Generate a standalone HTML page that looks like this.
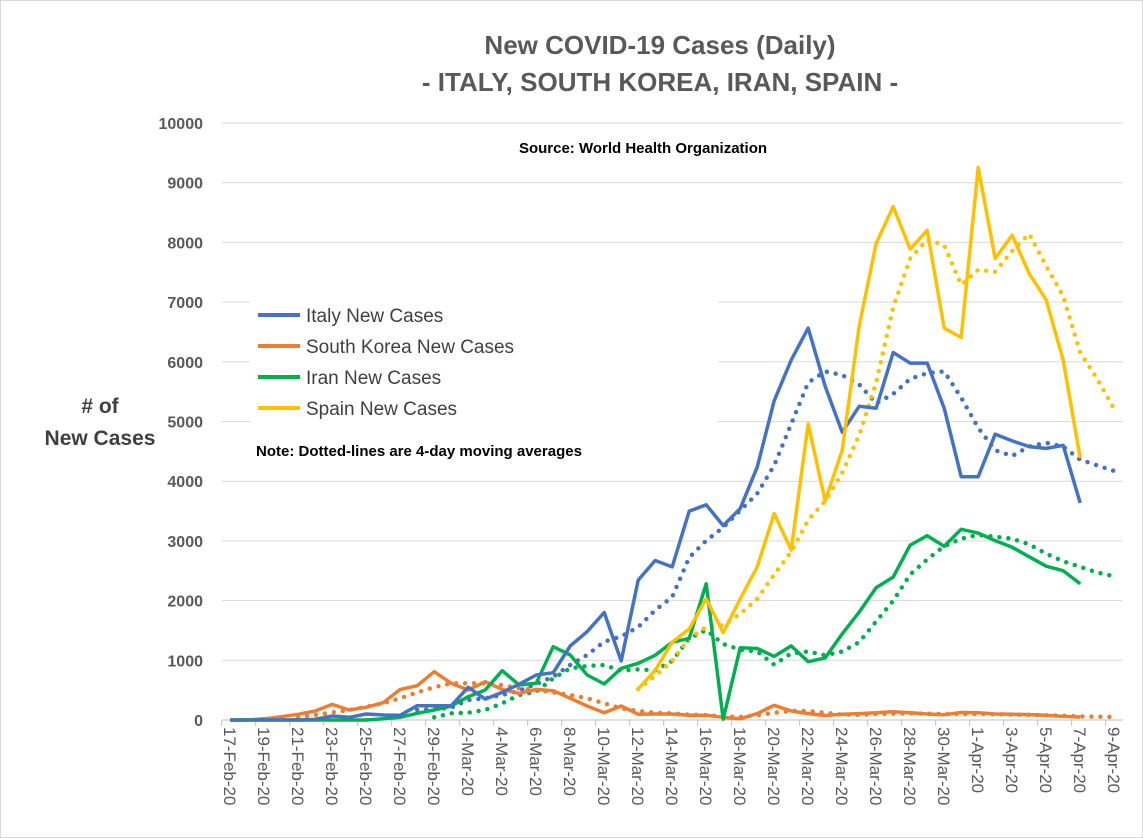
<!DOCTYPE html>
<html><head><meta charset="utf-8">
<style>
html,body{margin:0;padding:0;background:#fff;}
svg{display:block;font-family:"Liberation Sans",sans-serif;}
</style></head>
<body>
<svg id="chart" width="1143" height="838" viewBox="0 0 1143 838">
<rect x="0.5" y="0.5" width="1142" height="837" fill="#fff" stroke="#D9D9D9"/>
<text x="660" y="54" text-anchor="middle" font-size="26" font-weight="bold" fill="#595959">New COVID-19 Cases (Daily)</text>
<text x="660" y="91" text-anchor="middle" font-size="26" font-weight="bold" fill="#595959">- ITALY, SOUTH KOREA, IRAN, SPAIN -</text>
<g id="grid"></g>
<g id="yticks"></g>
<g id="xaxis"></g>
<g id="series"></g>
<rect x="250" y="296" width="468" height="172" fill="#fff"/>
<text x="643" y="153" text-anchor="middle" font-size="15" font-weight="bold" fill="#000">Source: World Health Organization</text>
<g>
<g><line x1="258" y1="315" x2="300" y2="315" stroke="#4472C4" stroke-width="4"/><text x="306" y="322" font-size="19" fill="#404040">Italy New Cases</text></g>
<g><line x1="258" y1="346" x2="300" y2="346" stroke="#ED7D31" stroke-width="4"/><text x="306" y="353" font-size="19" fill="#404040">South Korea New Cases</text></g>
<g><line x1="258" y1="377" x2="300" y2="377" stroke="#00B050" stroke-width="4"/><text x="306" y="384" font-size="19" fill="#404040">Iran New Cases</text></g>
<g><line x1="258" y1="408" x2="300" y2="408" stroke="#FFC000" stroke-width="4"/><text x="306" y="415" font-size="19" fill="#404040">Spain New Cases</text></g>
</g>
<text x="256" y="456" font-size="15" font-weight="bold" fill="#000">Note: Dotted-lines are 4-day moving averages</text>
<text x="100" y="413" text-anchor="middle" font-size="21" font-weight="bold" fill="#404040"># of</text>
<text x="100" y="445" text-anchor="middle" font-size="21" font-weight="bold" fill="#404040">New Cases</text>
</svg>
<script>
const dates = (function(){const m=['Feb','Mar','Apr'];const out=[];let d=17,mi=0;const len=[29,31,30];for(let k=0;k<53;k++){out.push(d+'-'+m[mi]+'-20');d++;if(d>len[mi]){d=1;mi++;}}return out;})();
const yTicks = [0,1000,2000,3000,4000,5000,6000,7000,8000,9000,10000];
const italy = [0,0,0,0,0,10,67,45,100,84,78,240,240,240,547,350,463,600,753,792,1240,1480,1800,989,2344,2671,2564,3497,3604,3257,3541,4234,5349,6029,6565,5588,4820,5254,5223,6155,5979,5979,5223,4076,4076,4788,4675,4580,4549,4599,3635];
const italyMA = [null,null,null,null,null,null,null,null,null,null,null,167,180,206,335,363,418,491,603,725,921,1088,1311,1399,1556,1840,2060,2722,3005,3226,3509,3793,4265,4958,5651,5840,5777,5620,5305,5462,5714,5809,5840,5399,4895,4517,4423,4580,4643,4580,4360,4265,4171];
const korea = [0,0,20,56,95,150,262,167,212,290,513,575,809,614,502,642,513,446,513,491,363,234,123,234,95,100,100,80,80,44,20,107,246,151,107,76,95,107,120,139,120,100,88,126,120,100,95,90,80,60,50];
const koreaMA = [null,null,null,null,45,84,128,167,223,279,363,463,547,614,614,614,586,530,502,463,418,363,279,195,150,120,110,90,80,60,50,80,120,150,150,120,90,85,100,105,110,105,100,100,100,95,90,85,80,70,60,55,50];
const iran = [0,0,0,0,0,0,0,0,0,20,45,112,167,234,391,502,826,586,614,1228,1088,753,603,865,949,1084,1304,1367,2281,13,1210,1197,1065,1241,977,1040,1443,1808,2218,2394,2930,3087,2911,3194,3131,3005,2892,2734,2577,2501,2281];
const iranMA = [null,null,null,null,null,null,null,null,null,null,null,null,45,112,123,167,279,418,474,698,865,904,921,826,848,832,989,1367,1506,1273,1178,1147,926,1115,1147,1084,1147,1304,1651,1997,2438,2690,2911,3037,3100,3068,3037,2942,2785,2659,2564,2470,2407];
const spain = [null,null,null,null,null,null,null,null,null,null,null,null,null,null,null,null,null,null,null,null,null,null,null,null,517,832,1304,1525,2029,1462,2029,2564,3459,2848,4958,3667,4517,6596,7982,8600,7888,8203,6565,6407,9255,7730,8120,7478,7037,6029,4391];
const spainMA = [null,null,null,null,null,null,null,null,null,null,null,null,null,null,null,null,null,null,null,null,null,null,null,null,517,737,989,1367,1556,1588,1777,2029,2438,2816,3352,3667,4139,4769,5651,6911,7730,8045,7951,7289,7541,7510,7856,8140,7604,7100,6155,5714,5210];

const NS='http://www.w3.org/2000/svg';
const X0=221.7, CW=17, Y0=720, YTOP=123, YMAX=10000;
function xPos(i){return X0+CW*(i+0.5);}
function yPos(v){return Y0-(v/YMAX)*(Y0-YTOP);}
function mk(tag,attrs,parent){const e=document.createElementNS(NS,tag);for(const k in attrs)e.setAttribute(k,attrs[k]);parent.appendChild(e);return e;}

const grid=document.getElementById('grid');
const yt=document.getElementById('yticks');
yTicks.forEach(v=>{
  if(v>0){const l=mk('line',{x1:X0,x2:X0+CW*53,y1:yPos(v),y2:yPos(v),stroke:'#D9D9D9','stroke-width':1},grid);
  
  }
  const t=mk('text',{x:203,y:yPos(v)+6,'text-anchor':'end','font-size':16,'font-weight':'bold',fill:'#595959'},yt);
  t.textContent=String(v);
  
  
});
const xa=document.getElementById('xaxis');
const ax=mk('line',{x1:X0,x2:X0+CW*53,y1:Y0,y2:Y0,stroke:'#BFBFBF','stroke-width':1},xa);


for(let i=0;i<dates.length;i+=2){
  const tx=X0+CW*i;
  const tk=mk('line',{x1:tx,x2:tx,y1:Y0,y2:Y0+6,stroke:'#BFBFBF','stroke-width':1},xa);
  
  
  const cx=xPos(i)-6;
  const t=mk('text',{x:cx,y:727,'font-size':17,fill:'#595959',transform:'rotate(90 '+cx+' 727)'},xa);
  t.textContent=dates[i];
  
  
}
const sg=document.getElementById('series');
function draw(arr,color,dotted,name){
  let d='';let pen=false;
  arr.forEach((v,i)=>{if(v===null||v===undefined){pen=false;return;}d+=(pen?'L':'M')+xPos(i).toFixed(1)+' '+yPos(v).toFixed(1)+' ';pen=true;});
  const attrs={d:d,fill:'none',stroke:color,'stroke-width':dotted?4.5:3.5,'stroke-linejoin':'round'};
  if(dotted){attrs['stroke-dasharray']='0 9';attrs['stroke-linecap']='round';}
  const p=mk('path',attrs,sg);
  
  
}
draw(koreaMA,'#ED7D31',true,'south-korea-moving-average');
draw(iranMA,'#00B050',true,'iran-moving-average');
draw(italyMA,'#4472C4',true,'italy-moving-average');
draw(spainMA,'#FFC000',true,'spain-moving-average');
draw(korea,'#ED7D31',false,'south-korea-line');
draw(iran,'#00B050',false,'iran-line');
draw(italy,'#4472C4',false,'italy-line');
draw(spain,'#FFC000',false,'spain-line');
</script>
</body></html>
